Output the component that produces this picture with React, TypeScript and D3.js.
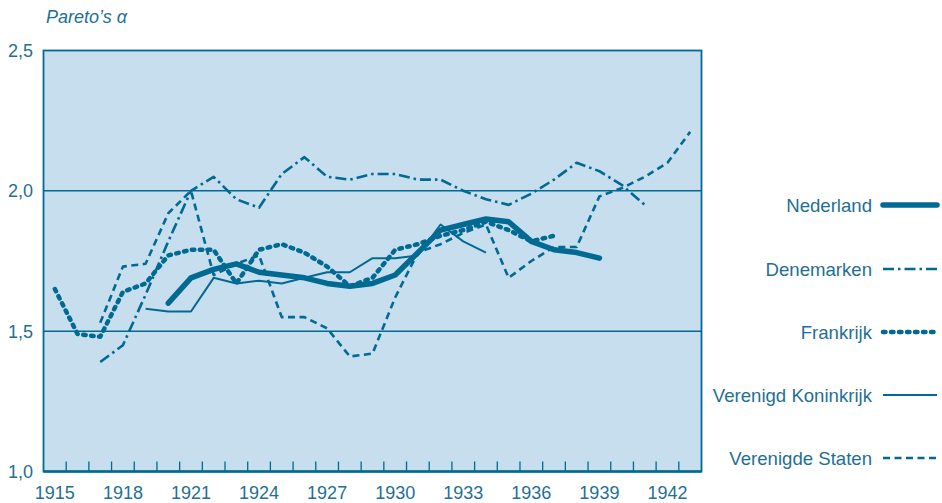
import React from 'react';
import * as d3 from 'd3';

// years on the x axis, one band per year
const years = d3.range(1915, 1944);
const tickLabelYears = [1915, 1918, 1921, 1924, 1927, 1930, 1933, 1936, 1939, 1942];
const yTicks = [1.0, 1.5, 2.0, 2.5];
const gridValues = [1.5, 2.0];

type Pt = [number, number];

const nederland: Pt[] = [
  [1920, 1.60], [1921, 1.69], [1922, 1.72], [1923, 1.74], [1924, 1.71], [1925, 1.70],
  [1926, 1.69], [1927, 1.67], [1928, 1.66], [1929, 1.67], [1930, 1.70], [1931, 1.78],
  [1932, 1.86], [1933, 1.88], [1934, 1.90], [1935, 1.89], [1936, 1.82], [1937, 1.79],
  [1938, 1.78], [1939, 1.76],
];

const denemarken: Pt[] = [
  [1917, 1.39], [1918, 1.45], [1919, 1.63], [1920, 1.82], [1921, 2.00], [1922, 2.05],
  [1923, 1.97], [1924, 1.94], [1925, 2.06], [1926, 2.12], [1927, 2.05], [1928, 2.04],
  [1929, 2.06], [1930, 2.06], [1931, 2.04], [1932, 2.04], [1933, 2.00], [1934, 1.97],
  [1935, 1.95], [1936, 1.99], [1937, 2.04], [1938, 2.10], [1939, 2.07], [1940, 2.02],
  [1941, 1.95],
];

const frankrijk: Pt[] = [
  [1915, 1.65], [1916, 1.49], [1917, 1.48], [1918, 1.64], [1919, 1.67], [1920, 1.77],
  [1921, 1.79], [1922, 1.79], [1923, 1.67], [1924, 1.79], [1925, 1.81], [1926, 1.78],
  [1927, 1.73], [1928, 1.66], [1929, 1.69], [1930, 1.79], [1931, 1.81], [1932, 1.84],
  [1933, 1.86], [1934, 1.89], [1935, 1.86], [1936, 1.82], [1937, 1.84],
];

const verenigdKoninkrijk: Pt[] = [
  [1919, 1.58], [1920, 1.57], [1921, 1.57], [1922, 1.69], [1923, 1.67], [1924, 1.68],
  [1925, 1.67], [1926, 1.69], [1927, 1.71], [1928, 1.71], [1929, 1.76], [1930, 1.76],
  [1931, 1.77], [1932, 1.88], [1933, 1.82], [1934, 1.78],
];

const verenigdeStaten: Pt[] = [
  [1917, 1.53], [1918, 1.73], [1919, 1.74], [1920, 1.92], [1921, 2.00], [1922, 1.70],
  [1923, 1.74], [1924, 1.77], [1925, 1.55], [1926, 1.55], [1927, 1.51], [1928, 1.41],
  [1929, 1.42], [1930, 1.62], [1931, 1.78], [1932, 1.81], [1933, 1.85], [1934, 1.88],
  [1935, 1.69], [1936, 1.75], [1937, 1.80], [1938, 1.80], [1939, 1.98], [1940, 2.01],
  [1941, 2.05], [1942, 2.10], [1943, 2.21],
];

const LINE = '#006a92';
const TEXT = '#1f6f96';
const FILL = '#c6deed';
const FONT = '"Liberation Sans", Arial, sans-serif';

const series = [
  { name: 'Nederland', data: nederland, width: 5.5, dash: null as string | null },
  { name: 'Denemarken', data: denemarken, width: 2.6, dash: '11,4,2.5,4' },
  { name: 'Frankrijk', data: frankrijk, width: 4.5, dash: '2.5,5.5' },
  { name: 'Verenigd Koninkrijk', data: verenigdKoninkrijk, width: 2, dash: null },
  { name: 'Verenigde Staten', data: verenigdeStaten, width: 2.6, dash: '7,4.5' },
];

export default function App() {
  const width = 942;
  const height = 503;
  const left = 43.5, right = 701.5, top = 50.5, bottom = 471.5;

  const x = d3.scaleLinear().domain([years[0] - 0.5, years[years.length - 1] + 0.5]).range([left, right]);
  const y = d3.scaleLinear().domain([1, 2.5]).range([bottom, top]);

  const line = d3.line<Pt>().x(d => x(d[0])).y(d => y(d[1]));

  // drawing order: thin lines under the thick Dutch line
  const drawOrder = [4, 3, 1, 2, 0];

  const legendY = [205, 269, 332, 395, 458];

  return (
    <svg width={width} height={height} style={{ position: 'absolute', left: 0, top: 0 }} fontFamily={FONT}>
      <rect x={left} y={top} width={right - left} height={bottom - top} fill={FILL} />

      {gridValues.map(v => (
        <line key={v} x1={left} x2={right} y1={y(v)} y2={y(v)} stroke={LINE} strokeWidth={1.5} />
      ))}

      {/* ticks at the band boundaries */}
      {years.slice(1).map(yr => (
        <line key={yr} x1={x(yr - 0.5)} x2={x(yr - 0.5)} y1={bottom - 10} y2={bottom} stroke={LINE} strokeWidth={1.3} />
      ))}

      <rect x={left} y={top} width={right - left} height={bottom - top} fill="none" stroke={LINE} strokeWidth={1.8} />
      <line x1={left} x2={right} y1={bottom} y2={bottom} stroke={LINE} strokeWidth={2.5} />

      {drawOrder.map(i => {
        const s = series[i];
        return (
          <path
            key={s.name}
            d={line(s.data) || ''}
            fill="none"
            stroke={LINE}
            strokeWidth={s.width}
            strokeDasharray={s.dash || undefined}
            strokeLinecap={s.name === 'Frankrijk' || s.name === 'Nederland' ? 'round' : 'butt'}
            strokeLinejoin="round"
          />
        );
      })}

      {yTicks.map(v => (
        <text key={v} x={33} y={y(v) + 6.5} textAnchor="end" fontSize={18} fill={TEXT}>
          {d3.format('.1f')(v).replace('.', ',')}
        </text>
      ))}

      {tickLabelYears.map(yr => (
        <text key={yr} x={x(yr)} y={499} textAnchor="middle" fontSize={18} fill={TEXT}>
          {yr}
        </text>
      ))}

      <text x={46} y={23} fontSize={18} fontStyle="italic" fill={TEXT}>Pareto’s α</text>

      {series.map((s, i) => (
        <g key={s.name} transform={`translate(0,${legendY[i]})`}>
          <text x={872} y={6.5} textAnchor="end" fontSize={18.6} fill={TEXT}>{s.name}</text>
          <line
            x1={883}
            x2={937}
            y1={0}
            y2={0}
            stroke={LINE}
            strokeWidth={s.width}
            strokeDasharray={s.dash || undefined}
            strokeLinecap={s.name === 'Frankrijk' || s.name === 'Nederland' ? 'round' : 'butt'}
          />
        </g>
      ))}
    </svg>
  );
}
